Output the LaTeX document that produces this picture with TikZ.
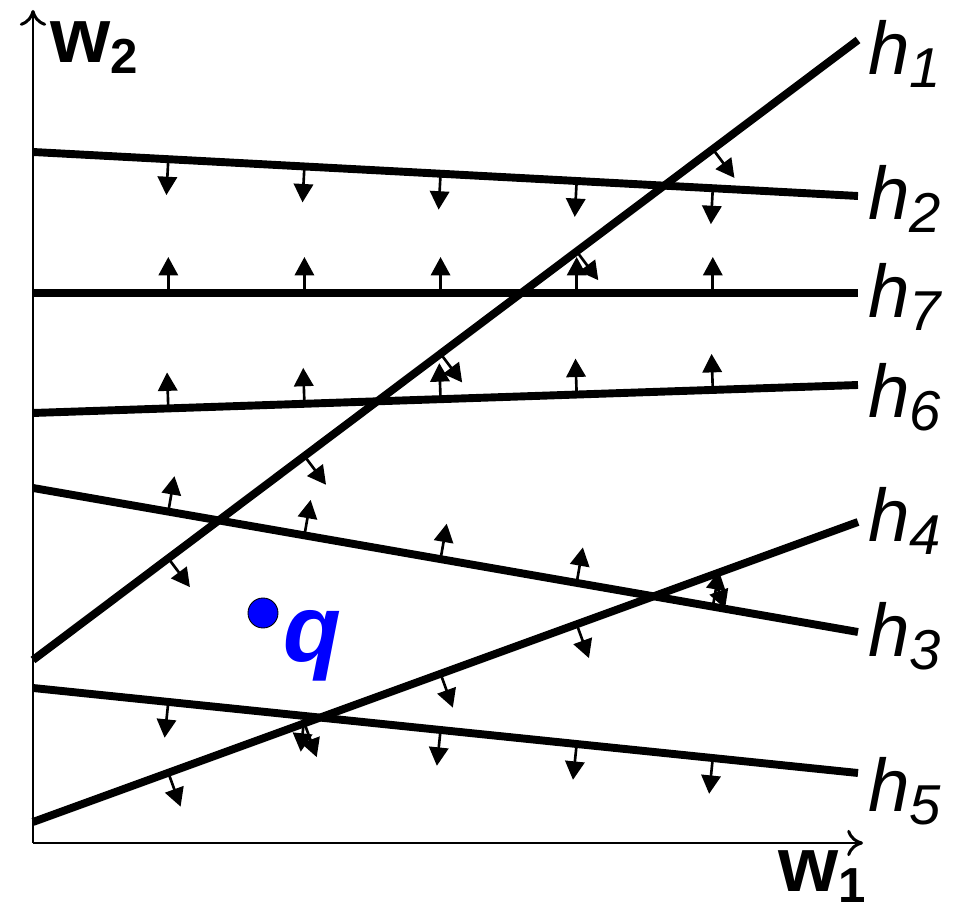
\documentclass[tikz,border=0pt]{standalone}
\usepackage{fontspec}
\setmainfont{Liberation Sans}
\usetikzlibrary{arrows.meta,calc}
\tikzset{
  recta/.style={line width=4.5pt},
  eje/.style={line width=1.7pt, -{To[length=9pt,width=15pt]}},
  flechita/.style={line width=1.5pt, -{Triangle[length=10.5pt,width=11pt]}},
  etiq/.style={anchor=base west, inner sep=0pt,
               font=\fontsize{42.5}{42.5}\selectfont\itshape},
  ejeetiq/.style={anchor=base west, inner sep=0pt,
                  font=\fontsize{44}{44}\selectfont\bfseries},
  punto/.style={circle, draw=black, fill=blue, line width=0.5pt,
                minimum size=0.6cm, inner sep=0pt}
}
\newcommand{\subh}[1]{\raisebox{-7pt}{\fontsize{32}{32}\selectfont #1}}
\newcommand{\subw}[1]{\raisebox{-6pt}{\fontsize{28}{28}\selectfont\bfseries #1}}

\begin{document}
\begin{tikzpicture}[x=0.02cm, y=0.02cm]
  \useasboundingbox (0,0) rectangle (964,913);
  % Ejes
  \coordinate (O) at (33,70);
  \coordinate (xfin) at (863,70);
  \coordinate (yfin) at (33,903);
  \draw[eje] (O) -- (xfin);
  \draw[eje] (O) -- (yfin);
  \node[ejeetiq] (w1) at (778,21) {w\subw{1}};
  \node[ejeetiq] (w2) at (50,850) {w\subw{2}};

  % Semiplanos
  \coordinate (h1a) at (33,253); \coordinate (h1b) at (858,873);
  \coordinate (h2a) at (33,761); \coordinate (h2b) at (858,717);
  \coordinate (h7a) at (33,620); \coordinate (h7b) at (858,620);
  \coordinate (h6a) at (33,500); \coordinate (h6b) at (858,528);
  \coordinate (h3a) at (33,425); \coordinate (h3b) at (858,281);
  \coordinate (h4a) at (33,91);  \coordinate (h4b) at (858,391);
  \coordinate (h5a) at (33,225); \coordinate (h5b) at (858,140);

  % Normales
  \foreach \l/\ang in {h1/-90,h2/-90,h7/90,h6/90,h3/90,h4/-90,h5/-90}{
    \foreach \p in {0.164,0.329,0.494,0.659,0.824}{
      \coordinate (n) at ($(\l a)!\p!(\l b)$);
      \draw[flechita] (n) -- ($(n)!0.72cm!\ang:(\l b)$);
    }
    \draw[recta] (\l a) -- (\l b);
  }

  \node[etiq] (e1) at (868,838) {h\subh{1}};
  \node[etiq] (e2) at (868,693) {h\subh{2}};
  \node[etiq] (e7) at (868,595) {h\subh{7}};
  \node[etiq] (e6) at (868,495) {h\subh{6}};
  \node[etiq] (e4) at (868,371) {h\subh{4}};
  \node[etiq] (e3) at (868,256) {h\subh{3}};
  \node[etiq] (e5) at (868,101) {h\subh{5}};

  % Punto q
  \node[punto] (q) at (263,300) {};
  \node[anchor=base west, inner sep=0pt, text=blue,
        font=\fontsize{54}{54}\selectfont\bfseries\itshape] (qlab) at (283,251) {q};
\end{tikzpicture}
\end{document}
